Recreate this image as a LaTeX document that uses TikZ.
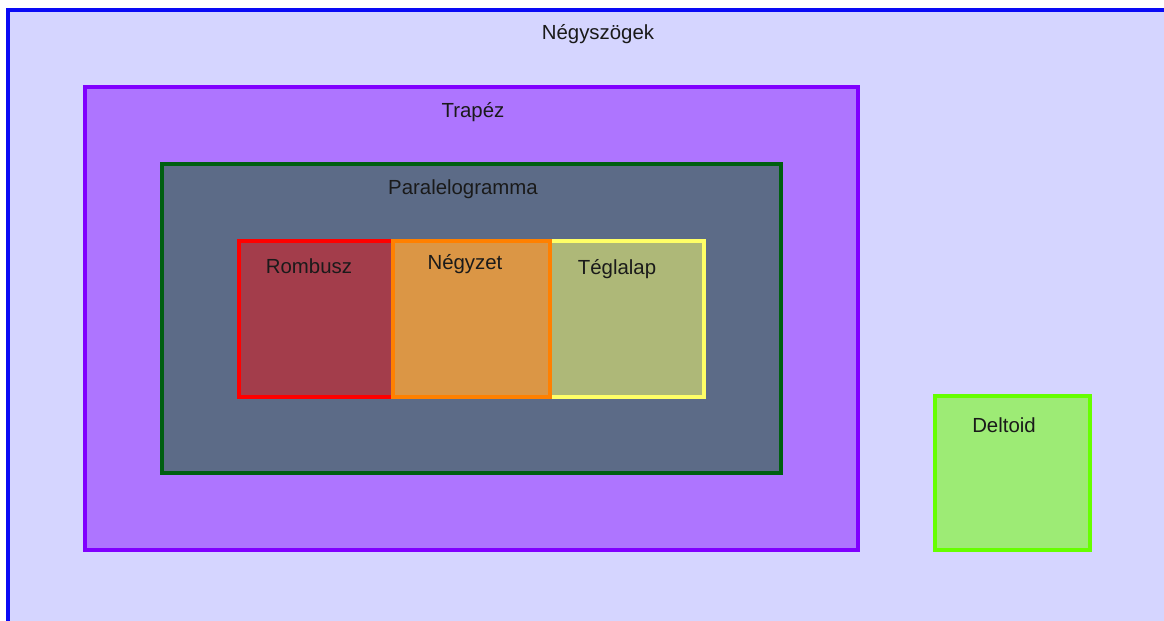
\documentclass[tikz,border=0pt]{standalone}
\usepackage{fontspec}
\setmainfont{Liberation Sans}
\definecolor{outerfill}{HTML}{D5D5FF}
\definecolor{outerdraw}{HTML}{0A0AF5}
\definecolor{trapfill}{HTML}{AE75FF}
\definecolor{trapdraw}{HTML}{8000FF}
\definecolor{parfill}{HTML}{5C6B87}
\definecolor{pardraw}{HTML}{005F10}
\definecolor{romfill}{HTML}{A33D4B}
\definecolor{romdraw}{HTML}{FF0000}
\definecolor{negfill}{HTML}{DB9645}
\definecolor{negdraw}{HTML}{FF8000}
\definecolor{tegfill}{HTML}{AEB878}
\definecolor{tegdraw}{HTML}{FFFF66}
\definecolor{delfill}{HTML}{9DEB75}
\definecolor{deldraw}{HTML}{66FF00}
\definecolor{labeltext}{HTML}{1A1A1A}
\tikzset{
  setbox/.style={line width=2.5pt},
  setlabel/.style={font=\fontsize{15.3pt}{18pt}\selectfont, text=labeltext, inner sep=0pt}
}
\begin{document}
\begin{tikzpicture}[x=0.75pt,y=-0.75pt]
\useasboundingbox (0,0) rectangle (1164,621);
\fill[white] (0,0) rectangle (1164,621);
\begin{scope}
\clip (0,0) rectangle (1164,621);
\draw[setbox, draw=outerdraw, fill=outerfill] (8,10) rectangle (1180,640);
\end{scope}
\draw[setbox, draw=trapdraw, fill=trapfill] (85,87) rectangle (858,550);
\draw[setbox, draw=pardraw, fill=parfill] (162,164) rectangle (781,473);
\draw[setbox, draw=romdraw, fill=romfill] (239,241) rectangle (393,397);
\draw[setbox, draw=tegdraw, fill=tegfill] (550,241) rectangle (704,397);
\draw[setbox, draw=negdraw, fill=negfill] (393,241) rectangle (550,397);
\draw[setbox, draw=deldraw, fill=delfill] (935,396) rectangle (1090,550);
\node[setlabel] (lnegyszog) at (598,34) {Négyszögek};
\node[setlabel] (ltrapez) at (473,112) {Trapéz};
\node[setlabel] (lparal) at (463,189) {Paralelogramma};
\node[setlabel] (lrombusz) at (309,266) {Rombusz};
\node[setlabel] (lnegyzet) at (465,264) {Négyzet};
\node[setlabel] (lteglalap) at (617,269) {Téglalap};
\node[setlabel] (ldeltoid) at (1004,425) {Deltoid};
\end{tikzpicture}
\end{document}
